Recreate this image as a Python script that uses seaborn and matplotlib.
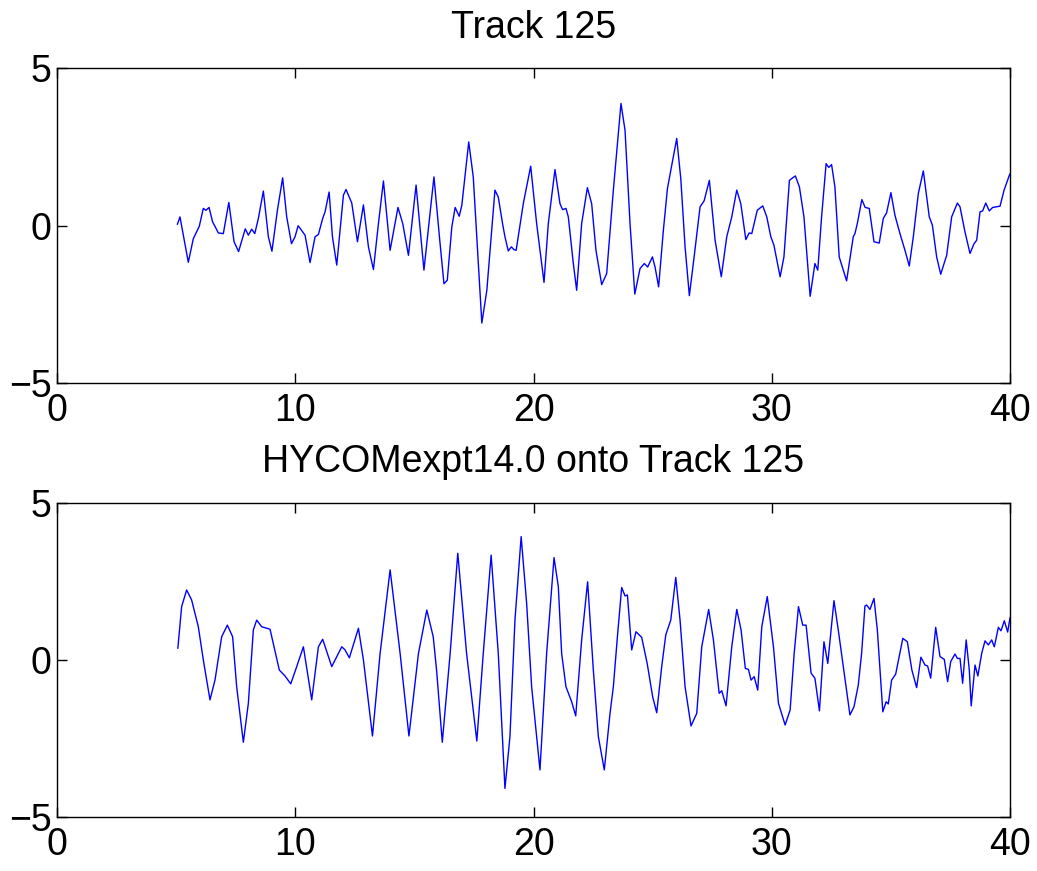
import matplotlib
matplotlib.use("Agg")
import matplotlib.pyplot as plt
import seaborn as sns
import pandas as pd

sns.set_style("ticks")
plt.rcParams['font.family'] = ['Liberation Sans', 'DejaVu Sans']
plt.rcParams['text.color'] = 'black'
plt.rcParams['axes.labelcolor'] = 'black'
plt.rcParams['xtick.color'] = 'black'
plt.rcParams['ytick.color'] = 'black'
plt.rcParams['axes.edgecolor'] = 'black'

title_top = "Track 125"
title_bottom = "HYCOMexpt14.0 onto Track 125"
x_ticks = [0, 10, 20, 30, 40]
y_ticks = [-5, 0, 5]

# Observed track (top panel)
track_x = [5.05, 5.16, 5.51, 5.72, 5.97, 6.14, 6.25, 6.38, 6.53, 6.63, 6.77, 6.98, 7.21, 7.43, 7.62,
           7.90, 8.03, 8.17, 8.30, 8.45, 8.66, 8.87, 9.02, 9.25, 9.47, 9.64, 9.84, 9.99, 10.12, 10.31,
           10.41, 10.62, 10.83, 10.97, 11.15, 11.25, 11.42, 11.56, 11.74, 12.02, 12.13, 12.37, 12.61,
           12.86, 13.07, 13.28, 13.49, 13.70, 13.98, 14.31, 14.51, 14.75, 15.07, 15.40, 15.82, 16.05,
           16.24, 16.38, 16.57, 16.71, 16.88, 16.99, 17.28, 17.47, 17.83, 18.04, 18.38, 18.52, 18.71,
           18.80, 18.94, 19.07, 19.18, 19.27, 19.57, 19.88, 20.13, 20.44, 20.62, 20.90, 21.11, 21.22,
           21.36, 21.46, 21.67, 21.81, 22.02, 22.26, 22.44, 22.62, 22.86, 23.07, 23.35, 23.67, 23.84,
           24.05, 24.25, 24.47, 24.65, 24.79, 24.99, 25.10, 25.25, 25.45, 25.62, 26.01, 26.18, 26.36,
           26.54, 26.74, 26.99, 27.16, 27.38, 27.62, 27.88, 28.11, 28.32, 28.53, 28.70, 28.91, 29.05,
           29.16, 29.39, 29.62, 29.79, 29.96, 30.09, 30.35, 30.51, 30.74, 30.84, 30.99, 31.16, 31.35,
           31.61, 31.81, 31.93, 32.09, 32.28, 32.39, 32.51, 32.65, 32.83, 33.14, 33.42, 33.49, 33.59,
           33.78, 33.92, 34.09, 34.29, 34.51, 34.68, 34.82, 35.00, 35.17, 35.38, 35.59, 35.77, 35.94,
           36.15, 36.36, 36.61, 36.74, 36.92, 37.09, 37.34, 37.55, 37.79, 37.90, 38.11, 38.32, 38.49,
           38.60, 38.74, 38.85, 38.98, 39.13, 39.27, 39.58, 39.75, 39.97, 40.00]
track_y = [0.04, 0.28, -1.16, -0.41, -0.02, 0.55, 0.49, 0.58, 0.12, -0.02, -0.23, -0.25, 0.74, -0.51, -0.82,
           -0.10, -0.30, -0.11, -0.25, 0.23, 1.10, -0.35, -0.81, 0.49, 1.52, 0.28, -0.57, -0.35, 0.00, -0.20,
           -0.30, -1.17, -0.35, -0.28, 0.23, 0.44, 1.07, -0.35, -1.25, 0.97, 1.15, 0.72, -0.51,
           0.66, -0.67, -1.39, 0.07, 1.42, -0.78, 0.58, 0.07, -0.94, 1.29, -1.41, 1.55, -0.35,
           -1.84, -1.73, -0.04, 0.58, 0.30, 0.65, 2.66, 1.55, -3.09, -2.05, 1.13, 0.91, 0.02,
           -0.35, -0.80, -0.67, -0.76, -0.78, 0.70, 1.89, 0.07, -1.80, 0.07, 1.78, 0.70, 0.51,
           0.55, 0.28, -1.20, -2.05, 0.07, 1.21, 0.70, -0.78, -1.87, -1.52, 1.13, 3.88, 3.03,
           0.07, -2.17, -1.36, -1.20, -1.31, -0.99, -1.31, -1.94, -0.14, 1.18, 2.77, 1.50, -0.67,
           -2.22, -0.99, 0.60, 0.79, 1.44, -0.46, -1.62, -0.35, 0.28, 1.13, 0.70, -0.44, -0.23,
           -0.25, 0.49, 0.63, 0.28, -0.35, -0.62, -1.62, -0.99, 1.44, 1.50, 1.58, 1.23, 0.28,
           -2.24, -1.20, -1.41, 0.28, 1.97, 1.85, 1.94, 1.23, -0.99, -1.75, -0.35, -0.25, 0.07,
           0.83, 0.58, 0.55, -0.51, -0.55, 0.23, 0.41, 1.05, 0.33, -0.25, -0.78, -1.28, -0.35,
           1.02, 1.74, 0.28, 0.02, -0.99, -1.54, -0.94, 0.28, 0.72, 0.60, -0.20, -0.88, -0.57,
           -0.46, 0.44, 0.47, 0.72, 0.47, 0.58, 0.62, 1.13, 1.60, 1.65]

# Model projected onto track (bottom panel)
model_x = [5.07, 5.23, 5.44, 5.65, 5.93, 6.14, 6.42, 6.63, 6.91, 7.15, 7.37, 7.54, 7.82, 8.03, 8.24,
           8.38, 8.59, 8.94, 9.11, 9.33, 9.57, 9.81, 10.06, 10.34, 10.69, 10.97, 11.15, 11.53, 11.95,
           12.08, 12.27, 12.65, 12.86, 13.24, 13.56, 13.98, 14.40, 14.77, 15.17, 15.52, 15.79, 15.93,
           16.17, 16.50, 16.82, 17.19, 17.62, 17.89, 18.22, 18.52, 18.80, 19.01, 19.22, 19.48, 19.71,
           19.92, 20.27, 20.55, 20.86, 21.04, 21.18, 21.36, 21.60, 21.77, 22.02, 22.27, 22.51, 22.72,
           22.97, 23.21, 23.35, 23.52, 23.70, 23.84, 23.94, 24.12, 24.30, 24.54, 24.77, 25.00, 25.17,
           25.38, 25.55, 25.76, 25.97, 26.15, 26.36, 26.61, 26.85, 27.06, 27.35, 27.55, 27.79, 27.90,
           28.08, 28.32, 28.53, 28.71, 28.89, 29.02, 29.13, 29.26, 29.41, 29.58, 29.81, 30.07, 30.28,
           30.56, 30.77, 30.94, 31.12, 31.30, 31.44, 31.65, 31.81, 32.00, 32.19, 32.35, 32.61, 32.79,
           33.00, 33.28, 33.45, 33.63, 33.77, 33.91, 33.98, 34.12, 34.29, 34.43, 34.55, 34.66, 34.80,
           34.89, 35.03, 35.20, 35.50, 35.69, 35.88, 36.08, 36.26, 36.43, 36.54, 36.67, 36.88, 37.06,
           37.24, 37.38, 37.51, 37.69, 37.79, 37.90, 38.01, 38.16, 38.29, 38.37, 38.53, 38.65, 38.81,
           38.95, 39.09, 39.23, 39.34, 39.51, 39.62, 39.76, 39.90, 40.00]
model_y = [0.37, 1.70, 2.23, 1.91, 1.06, 0.00, -1.27, -0.64, 0.74, 1.11, 0.74, -0.85, -2.62, -1.38, 0.96,
           1.27, 1.06, 0.98, 0.42, -0.32, -0.51, -0.76, -0.21, 0.42, -1.27, 0.42, 0.66, -0.21, 0.42,
           0.33, 0.07, 1.01, 0.00, -2.42, 0.21, 2.87, 0.21, -2.42, 0.21, 1.59, 0.74, -0.32,
           -2.62, 0.21, 3.40, 0.21, -2.58, 0.21, 3.34, 0.21, -4.09, -2.44, 1.27, 3.93, 1.81,
           -0.85, -3.50, 0.21, 3.26, 2.34, 0.21, -0.85, -1.33, -1.78, 0.64, 2.49, -0.32, -2.44,
           -3.50, -1.70, -0.85, 0.74, 2.31, 2.04, 2.07, 0.32, 0.90, 0.72, -0.11, -1.17, -1.68,
           -0.21, 0.80, 1.27, 2.63, 1.27, -0.85, -2.10, -1.70, 0.42, 1.61, 0.64, -1.06, -0.98,
           -1.46, 0.42, 1.61, 0.96, -0.27, -0.30, -0.64, -0.53, -0.96, 1.06, 2.02, 0.42, -1.38,
           -2.07, -1.59, 0.21, 1.70, 1.11, 1.11, -0.42, -0.58, -1.62, 0.58, -0.11, 1.89, 0.96,
           -0.21, -1.75, -1.49, -0.80, 0.21, 1.72, 1.75, 1.61, 1.96, 0.96, -0.42, -1.65, -1.33,
           -1.40, -0.64, -0.45, 0.69, 0.58, -0.32, -0.88, 0.09, -0.16, -0.19, -0.58, 1.04, 0.11,
           0.02, -0.69, -0.05, 0.19, 0.05, 0.05, -0.74, 0.64, -0.32, -1.46, -0.16, -0.51, 0.21,
           0.61, 0.48, 0.64, 0.42, 1.04, 0.93, 1.25, 0.89, 1.35]

fig = plt.figure(figsize=(10.37, 8.71), dpi=100)
ax1 = fig.add_axes([0.055, 0.560, 0.919, 0.3617])
ax2 = fig.add_axes([0.055, 0.062, 0.919, 0.3605])

panels = [(ax1, track_x, track_y, title_top), (ax2, model_x, model_y, title_bottom)]
for ax, xs, ys, ttl in panels:
    df = pd.DataFrame({"x": xs, "y": ys})
    sns.lineplot(data=df, x="x", y="y", ax=ax, color=(0, 0, 1), linewidth=1.0)
    ax.set_xlim(0, 40)
    ax.set_ylim(-5, 5)
    ax.set_xticks(x_ticks)
    ax.set_yticks(y_ticks)
    ax.set_xlabel("")
    ax.set_ylabel("")
    ax.set_title(ttl, fontsize=27, pad=22, color="black")
    ax.tick_params(direction="in", length=7, width=1, labelsize=27, top=True, right=True,
                   colors="black")
    ax.tick_params(axis="x", pad=7)
    ax.tick_params(axis="y", pad=4)
    for sp in ax.spines.values():
        sp.set_visible(True)
        sp.set_linewidth(1.0)
        sp.set_color("black")

fig.savefig("out.png", dpi=100)
